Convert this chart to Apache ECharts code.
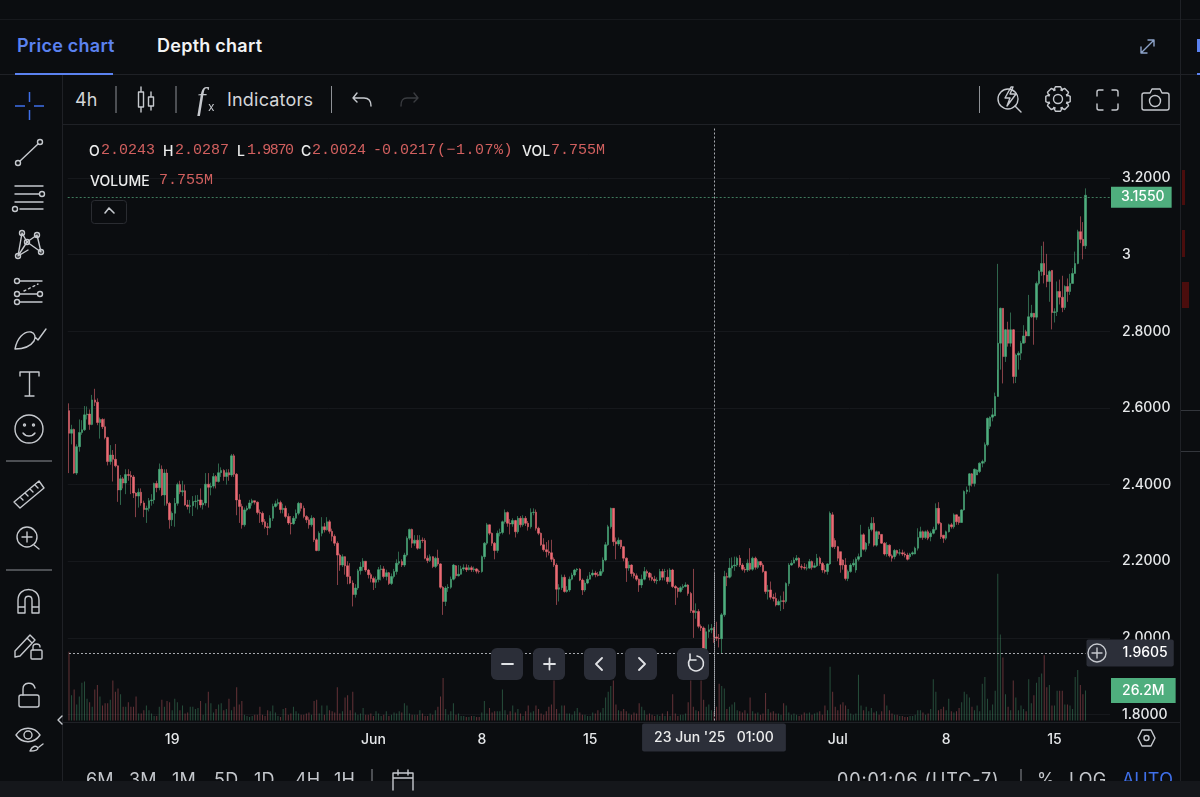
<!DOCTYPE html>
<html>
<head>
<meta charset="utf-8">
<title>Price chart</title>
<script src="https://cdn.jsdelivr.net/npm/echarts@6/dist/echarts.min.js"></script>
<style>
  html, body { margin: 0; width: 1200px; height: 797px; overflow: hidden; background: #0b0d10; }
  #chart { position: absolute; left: 0; top: 0; width: 1200px; height: 797px; }
  .panel { position: absolute; background: #0b0d10; }
  .rule { position: absolute; background: #1f2126; }
  .t { position: absolute; white-space: nowrap; line-height: 20px; color: #d4d6d9; font-family: Inter, sans-serif; font-size: 18px; letter-spacing: 0.2px; }
  .b { font-weight: 600; font-size: 18px; color: #f2f3f4; letter-spacing: 0.25px; }
  .m { font-family: "Liberation Mono", monospace; font-size: 15px; color: #d2605f; letter-spacing: 0; }
  .l { font-weight: 500; font-size: 14px; color: #eceded; letter-spacing: 0; }
  .f { font-size: 18px; color: #c4c7cc; }
  .btn { position: absolute; top: 648px; width: 32px; height: 32px; border-radius: 6px; background: #2b2e38; }
  #icons { position: absolute; left: 0; top: 0; }
  #icons .s { fill: none; stroke: #c6c9ce; stroke-width: 1.4; stroke-linecap: round; stroke-linejoin: round; }
</style>
</head>
<body>
<div id="chart"></div>

<div class="panel" style="left:0;top:0;width:1200px;height:128px"></div>
<div class="panel" style="left:0;top:124px;width:62px;height:660px"></div>
<div class="panel" style="left:0;top:752px;width:1200px;height:29px"></div>
<div class="rule" style="left:0;top:19px;width:1200px;height:1px;background:#17191d"></div>
<div class="rule" style="left:0;top:74px;width:1200px;height:1px"></div>
<div class="rule" style="left:62px;top:124px;width:1118px;height:1px"></div>
<div class="rule" style="left:62px;top:75px;width:1px;height:706px"></div>
<div class="rule" style="left:1180px;top:0;width:1px;height:781px"></div>
<div class="rule" style="left:62px;top:722px;width:1118px;height:1px"></div>
<div class="rule" style="left:15px;top:73px;width:98px;height:2px;background:#5b82f0"></div>
<div class="rule" style="left:1181px;top:410px;width:19px;height:1px;background:#33363c"></div>
<div class="rule" style="left:1181px;top:451px;width:19px;height:1px;background:#33363c"></div>
<div class="rule" style="left:1197px;top:73px;width:3px;height:2px;background:#5b82f0"></div>
<div class="rule" style="left:1182px;top:170px;width:3px;height:35px;background:#4a0d0d"></div>
<div class="rule" style="left:1182px;top:230px;width:3px;height:27px;background:#4a0d0d"></div>
<div class="rule" style="left:1182px;top:282px;width:7px;height:26px;background:#4a0d0d"></div>
<div class="rule" style="left:1197px;top:39px;width:3px;height:13px;background:#5b82f0"></div>

<div class="t b" style="left:17px;top:36px;color:#5b82f0">Price chart</div>
<div class="t b" style="left:157px;top:36px">Depth chart</div>
<div class="t" style="left:75px;top:90px">4h</div>
<div class="t" style="left:227px;top:90px">Indicators</div>

<div class="t l" style="left:89px;top:141px">O</div><div class="t m" style="left:101px;top:141px" id="rO"></div>
<div class="t l" style="left:163px;top:141px">H</div><div class="t m" style="left:175px;top:141px" id="rH"></div>
<div class="t l" style="left:237px;top:141px">L</div><div class="t m" style="left:247px;top:141px;letter-spacing:-1.4px" id="rL"></div>
<div class="t l" style="left:301px;top:141px">C</div><div class="t m" style="left:312px;top:141px" id="rC"></div>
<div class="t m" style="left:373px;top:141px">-0.0217</div>
<div class="t m" style="left:437px;top:141px;letter-spacing:0.5px">(−1.07%)</div>
<div class="t l" style="left:522px;top:141px">VOL</div><div class="t m" style="left:551px;top:141px">7.755M</div>
<div class="t l" style="left:90px;top:171px">VOLUME</div><div class="t m" style="left:159px;top:171px">7.755M</div>

<div class="btn" style="left:491px"></div><div class="btn" style="left:533px"></div>
<div class="btn" style="left:584px"></div><div class="btn" style="left:625px"></div>
<div class="btn" style="left:677px"></div>

<div class="t f" style="left:86px;top:770px">6M</div>
<div class="t f" style="left:129px;top:770px">3M</div>
<div class="t f" style="left:172px;top:770px">1M</div>
<div class="t f" style="left:214px;top:770px">5D</div>
<div class="t f" style="left:254px;top:770px">1D</div>
<div class="t f" style="left:295px;top:770px">4H</div>
<div class="t f" style="left:334px;top:770px">1H</div>
<div class="t f" style="left:837px;top:770px;letter-spacing:0.9px">00:01:06 (UTC-7)</div>
<div class="t f" style="left:1037px;top:770px">%</div>
<div class="t f" style="left:1069px;top:770px">LOG</div>
<div class="t f" style="left:1122px;top:770px;color:#3f6fe8">AUTO</div>
<div class="panel" style="left:0;top:781px;width:1200px;height:16px;background:#15171b"></div>

<svg id="icons" width="1200" height="797">
  <g stroke="#3f6fe8" stroke-width="1.5"><path d="M29.5 92V102M29.5 110V120M15 106H25M34 106H44"/></g>
  <g class="s">
    <path d="M20 161L38 144"/><circle cx="18" cy="163" r="2.5"/><circle cx="40" cy="142" r="2.5"/>
    <path d="M15 186H43M15 194H39M15 202H43M20 209H43"/><circle cx="42" cy="194" r="2.5"/><circle cx="15" cy="209" r="2.5"/>
    <path d="M22 233L18 256M41 252L37 235L27 242L22 233M27 242L18 256M27 242L41 252M18 256L28 250"/>
    <circle cx="22" cy="233" r="2.5"/><circle cx="37" cy="235" r="2.5"/><circle cx="27" cy="242" r="2.5"/><circle cx="18" cy="256" r="2.5"/><circle cx="41" cy="252" r="2.5"/>
    <path d="M20 281H42M20 294H37M20 302H42"/><circle cx="17" cy="281" r="2.5"/><circle cx="17" cy="294" r="2.5"/><circle cx="40" cy="294" r="2.5"/><circle cx="17" cy="302" r="2.5"/>
    <path d="M24 291L38 284" stroke-dasharray="2 3"/>
    <path d="M15 349C17 338 24 331 31 332C35 333 36 337 34 341C30 347 23 349 15 349ZM35 337L38 340L46 329"/>
    <path d="M20 376V372H39V376M29.5 372V396M25 396H34"/>
    <circle cx="29" cy="429" r="14"/><circle cx="24.5" cy="425" r="1"/><circle cx="33.5" cy="425" r="1"/><path d="M23 433C26 437 32 437 35 433"/>
    <path d="M14 502L39 481L44 488L20 508ZM20 497L23 500M25 493L28 496M30 489L33 492M35 485L38 488"/>
    <circle cx="27" cy="537" r="10"/><path d="M22 537H32M27 532V542M34 545L39 549"/>
    <path d="M18 613V600C18 586 39 586 39 600V613H32V600C32 595 25 595 25 600V613ZM18 607H25M32 607H39"/>
    <path d="M15 651L30 635L35 640L20 656L15 657ZM27 638L32 643"/><rect x="31" y="650" width="11" height="9" rx="1"/><path d="M33 650V647C33 643 40 643 40 647"/>
    <rect x="19" y="695" width="20" height="12" rx="2"/><path d="M23 695V689C23 682 33 681 35 688"/>
    <path d="M16 735C22 726 34 726 40 735C34 744 22 744 16 735Z"/><circle cx="28" cy="735" r="4"/><path d="M30 751C32 746 36 745 38 748C38 750 35 751 30 751ZM39 747L43 744"/>
    <path d="M62 716L58 720L62 724"/>
    <path d="M141 87V112M151 92V110"/><rect x="138.5" y="92" width="5" height="15" fill="#0b0d10"/><rect x="148.5" y="97" width="5" height="9" fill="#0b0d10"/>
    <path d="M357 93L353 98L357 102M353 98H364C369 98 371 101 371 106"/>
    <path d="M414 93L418 98L414 102M418 98H407C402 98 401 101 401 106" stroke="#3a3c40"/>
    <circle cx="1008" cy="99" r="10"/><path d="M1015 106L1021 112M1011 87L1005 98H1010L1007 106L1016 94H1010L1013 87Z"/>
    <circle cx="1058" cy="99" r="4.5"/><path id="gear"/>
    <path d="M1097 96V92C1097 91 1098 90 1099 90H1103M1112 90H1116C1117 90 1118 91 1118 92V96M1118 104V108C1118 109 1117 110 1116 110H1112M1103 110H1099C1098 110 1097 109 1097 108V104"/>
    <path d="M1144 93H1150L1152 89H1160L1162 93H1167C1168 93 1169 94 1169 95V108C1169 109 1168 110 1167 110H1144C1143 110 1142 109 1142 108V95C1142 94 1143 93 1144 93Z"/><circle cx="1155" cy="101" r="5.5"/>
    <path d="M1141 53L1154 40M1148 40H1154V46M1141 47V53H1147" stroke="#8da3c9"/>
    <path d="M1138 738L1142 730H1151L1155 738L1151 746H1142Z"/><circle cx="1146.5" cy="738" r="2.5"/>
    <path d="M393 790V773H413V790M393 778H413M398 770V775M408 770V775"/>
    <path d="M109 208L105 213M109 208L114 213" stroke-width="1.6"/>
    <path d="M502 664H513M544 664H555M549.5 658.5V669.5M602 658L596 664L602 670M639 658L645 664L639 670" stroke="#e0e2e5" stroke-width="1.8"/>
    <path d="M697 656A7.5 7.5 0 1 1 690 659M690 654L690 660L696 660" stroke="#e0e2e5" stroke-width="1.6"/>
    <circle cx="1097" cy="653" r="9"/><path d="M1092 653H1102M1097 648V658"/>
  </g>
  <rect x="91.5" y="200.5" width="35" height="23" rx="3" fill="none" stroke="#2a2c31"/>
  <g stroke="#8e9196" stroke-width="1"><path d="M116 86V113M176 86V113M331.5 86V113M979.5 86V113M372 769V781M1021 769V781M52 461H6M52 570H6"/></g>
  <text x="197" y="109" fill="#c6c9ce" font-family="Liberation Serif" font-style="italic" font-size="31">f</text>
  <text x="208" y="111" fill="#c6c9ce" font-family="Inter" font-size="12">x</text>
</svg>

<script>
// 4h candles. One row is ten candles.
const opens = [
  2.593,2.534,2.544,2.430,2.499,2.536,2.543,2.582,2.584,2.557,
  2.621,2.615,2.562,2.570,2.551,2.523,2.460,2.477,2.466,2.449,
  2.386,2.415,2.404,2.426,2.424,2.420,2.378,2.370,2.380,2.352,
  2.335,2.338,2.358,2.360,2.403,2.392,2.440,2.373,2.430,2.351,
  2.308,2.325,2.351,2.400,2.381,2.384,2.347,2.343,2.345,2.356,
  2.357,2.360,2.347,2.352,2.401,2.393,2.396,2.421,2.408,2.431,
  2.437,2.421,2.431,2.425,2.475,2.427,2.360,2.343,2.295,2.334,
  2.338,2.352,2.358,2.354,2.327,2.325,2.303,2.290,2.288,2.312,
  2.343,2.350,2.353,2.335,2.338,2.317,2.300,2.298,2.312,2.325,
  2.351,2.338,2.317,2.308,2.295,2.312,2.256,2.228,2.273,2.290,
  2.282,2.303,2.278,2.265,2.247,2.216,2.190,2.212,2.188,2.160,
  2.143,2.113,2.130,2.175,2.185,2.200,2.177,2.165,2.155,2.145,
  2.152,2.178,2.180,2.160,2.170,2.142,2.160,2.173,2.195,2.199,
  2.190,2.216,2.260,2.283,2.247,2.255,2.234,2.255,2.254,2.208,
  2.202,2.212,2.186,2.208,2.193,2.132,2.095,2.130,2.132,2.153,
  2.188,2.162,2.166,2.180,2.183,2.178,2.183,2.178,2.180,2.174,
  2.173,2.212,2.247,2.295,2.273,2.247,2.228,2.273,2.275,2.303,
  2.327,2.299,2.297,2.306,2.277,2.312,2.295,2.312,2.299,2.290,
  2.327,2.328,2.286,2.273,2.243,2.230,2.225,2.222,2.205,2.190,
  2.127,2.131,2.158,2.121,2.125,2.153,2.164,2.177,2.179,2.151,
  2.125,2.143,2.153,2.164,2.169,2.165,2.163,2.173,2.203,2.243,
  2.290,2.338,2.251,2.245,2.255,2.238,2.208,2.182,2.190,2.168,
  2.162,2.153,2.138,2.153,2.173,2.169,2.158,2.153,2.149,2.151,
  2.173,2.173,2.158,2.147,2.177,2.134,2.130,2.121,2.131,2.134,
  2.138,2.116,2.071,2.066,2.069,2.030,2.026,1.970,2.016,2.021,
  2.0243,2.0024,1.999,1.998,2.060,2.160,2.158,2.182,2.188,2.190,
  2.208,2.190,2.179,2.177,2.195,2.179,2.208,2.184,2.199,2.190,
  2.173,2.121,2.125,2.106,2.103,2.086,2.095,2.097,2.095,2.142,
  2.190,2.195,2.203,2.208,2.186,2.184,2.182,2.182,2.199,2.184,
  2.188,2.208,2.194,2.177,2.173,2.193,2.321,2.254,2.238,2.225,
  2.203,2.190,2.155,2.173,2.190,2.177,2.205,2.212,2.269,2.231,
  2.247,2.283,2.299,2.242,2.277,2.270,2.247,2.219,2.242,2.214,
  2.212,2.228,2.221,2.222,2.219,2.216,2.212,2.219,2.219,2.234,
  2.262,2.277,2.262,2.277,2.264,2.273,2.283,2.338,2.299,2.268,
  2.260,2.277,2.295,2.290,2.321,2.316,2.301,2.334,2.382,2.398,
  2.428,2.403,2.425,2.434,2.456,2.460,2.504,2.552,2.576,2.579,
  2.630,2.769,2.860,2.734,2.804,2.769,2.804,2.682,2.738,2.743,
  2.769,2.799,2.788,2.838,2.847,2.837,2.925,2.956,2.977,2.947,
  2.930,2.959,2.849,2.851,2.904,2.889,2.862,2.917,2.904,2.925,
  2.951,2.977,3.060,3.040,3.023
];
const closes = [
  2.534,2.544,2.430,2.499,2.536,2.543,2.582,2.584,2.557,2.621,
  2.615,2.562,2.570,2.551,2.523,2.460,2.477,2.466,2.449,2.386,
  2.415,2.404,2.426,2.424,2.420,2.378,2.370,2.380,2.352,2.335,
  2.338,2.358,2.360,2.403,2.392,2.440,2.373,2.430,2.351,2.308,
  2.325,2.351,2.400,2.381,2.384,2.347,2.343,2.345,2.356,2.357,
  2.360,2.347,2.352,2.401,2.393,2.396,2.421,2.408,2.431,2.437,
  2.421,2.431,2.425,2.475,2.427,2.360,2.343,2.295,2.334,2.338,
  2.352,2.358,2.354,2.327,2.325,2.303,2.290,2.288,2.312,2.343,
  2.350,2.353,2.335,2.338,2.317,2.300,2.298,2.312,2.325,2.351,
  2.338,2.317,2.308,2.295,2.312,2.256,2.228,2.273,2.290,2.282,
  2.303,2.278,2.265,2.247,2.216,2.190,2.212,2.188,2.160,2.143,
  2.113,2.130,2.175,2.185,2.200,2.177,2.165,2.155,2.145,2.152,
  2.178,2.180,2.160,2.170,2.142,2.160,2.173,2.195,2.199,2.190,
  2.216,2.260,2.283,2.247,2.255,2.234,2.255,2.254,2.208,2.202,
  2.212,2.186,2.208,2.193,2.132,2.095,2.130,2.132,2.153,2.190,
  2.162,2.166,2.180,2.183,2.178,2.183,2.178,2.180,2.174,2.173,
  2.212,2.247,2.295,2.273,2.247,2.228,2.273,2.275,2.303,2.327,
  2.299,2.297,2.306,2.277,2.312,2.295,2.312,2.299,2.290,2.327,
  2.328,2.286,2.273,2.243,2.230,2.225,2.222,2.205,2.190,2.127,
  2.131,2.158,2.121,2.125,2.153,2.164,2.177,2.179,2.151,2.125,
  2.143,2.153,2.164,2.169,2.165,2.163,2.173,2.203,2.243,2.290,
  2.338,2.251,2.245,2.255,2.238,2.208,2.182,2.190,2.168,2.162,
  2.153,2.138,2.153,2.173,2.169,2.158,2.153,2.149,2.151,2.173,
  2.158,2.173,2.147,2.177,2.134,2.130,2.121,2.131,2.134,2.138,
  2.116,2.071,2.066,2.069,2.030,2.026,1.970,2.016,2.021,2.0243,
  2.0024,1.999,1.998,2.060,2.160,2.158,2.182,2.188,2.190,2.208,
  2.190,2.179,2.177,2.195,2.179,2.208,2.184,2.199,2.190,2.173,
  2.121,2.125,2.106,2.103,2.086,2.095,2.097,2.095,2.142,2.190,
  2.195,2.203,2.208,2.186,2.184,2.182,2.182,2.199,2.184,2.188,
  2.208,2.194,2.177,2.173,2.193,2.325,2.238,2.238,2.208,2.190,
  2.190,2.155,2.173,2.190,2.195,2.205,2.212,2.269,2.231,2.247,
  2.283,2.299,2.242,2.277,2.270,2.247,2.219,2.242,2.214,2.208,
  2.228,2.221,2.222,2.219,2.216,2.205,2.219,2.222,2.234,2.262,
  2.277,2.262,2.277,2.260,2.273,2.283,2.338,2.299,2.264,2.260,
  2.277,2.295,2.290,2.321,2.303,2.301,2.334,2.382,2.386,2.428,
  2.403,2.440,2.438,2.456,2.460,2.504,2.573,2.576,2.582,2.630,
  2.769,2.860,2.734,2.804,2.769,2.804,2.682,2.738,2.743,2.769,
  2.788,2.788,2.838,2.847,2.837,2.925,2.956,2.977,2.947,2.930,
  2.956,2.849,2.851,2.904,2.889,2.862,2.917,2.904,2.925,2.951,
  2.977,3.060,3.040,3.023,3.155
];
const highs = [
  2.612,2.556,2.546,2.505,2.570,2.568,2.605,2.604,2.596,2.634,
  2.650,2.625,2.575,2.573,2.572,2.525,2.503,2.490,2.506,2.450,
  2.425,2.420,2.440,2.440,2.435,2.425,2.380,2.390,2.390,2.358,
  2.345,2.365,2.375,2.405,2.410,2.455,2.450,2.440,2.440,2.355,
  2.330,2.365,2.405,2.410,2.410,2.400,2.360,2.360,2.370,2.372,
  2.373,2.390,2.360,2.430,2.430,2.405,2.430,2.425,2.455,2.445,
  2.440,2.440,2.440,2.480,2.480,2.430,2.375,2.350,2.340,2.345,
  2.360,2.363,2.358,2.356,2.335,2.330,2.310,2.300,2.320,2.350,
  2.358,2.363,2.358,2.350,2.345,2.325,2.318,2.318,2.335,2.355,
  2.353,2.345,2.320,2.315,2.320,2.315,2.260,2.278,2.315,2.300,
  2.315,2.308,2.285,2.270,2.252,2.220,2.218,2.210,2.200,2.195,
  2.150,2.140,2.180,2.198,2.208,2.200,2.180,2.170,2.160,2.160,
  2.185,2.190,2.187,2.178,2.172,2.168,2.180,2.205,2.225,2.205,
  2.222,2.265,2.285,2.285,2.268,2.268,2.268,2.262,2.260,2.215,
  2.218,2.210,2.212,2.230,2.195,2.135,2.135,2.140,2.160,2.193,
  2.190,2.190,2.188,2.192,2.192,2.190,2.188,2.186,2.182,2.178,
  2.215,2.250,2.300,2.296,2.275,2.250,2.280,2.285,2.306,2.335,
  2.330,2.310,2.312,2.308,2.318,2.318,2.320,2.318,2.305,2.338,
  2.338,2.335,2.290,2.275,2.260,2.250,2.255,2.256,2.210,2.195,
  2.140,2.165,2.165,2.135,2.160,2.170,2.180,2.182,2.182,2.155,
  2.150,2.162,2.172,2.178,2.175,2.172,2.180,2.210,2.250,2.295,
  2.340,2.338,2.262,2.262,2.256,2.240,2.210,2.200,2.192,2.172,
  2.168,2.155,2.165,2.185,2.178,2.172,2.168,2.162,2.158,2.180,
  2.180,2.180,2.178,2.182,2.180,2.138,2.132,2.135,2.140,2.145,
  2.140,2.120,2.180,2.090,2.075,2.035,2.030,2.025,2.035,2.036,
  2.0287,2.042,2.010,2.065,2.175,2.170,2.208,2.210,2.212,2.212,
  2.216,2.195,2.185,2.205,2.234,2.212,2.212,2.205,2.200,2.195,
  2.175,2.138,2.147,2.115,2.118,2.100,2.110,2.121,2.145,2.195,
  2.203,2.210,2.216,2.210,2.192,2.195,2.192,2.206,2.202,2.196,
  2.219,2.212,2.198,2.190,2.195,2.330,2.328,2.260,2.240,2.225,
  2.205,2.208,2.178,2.195,2.205,2.210,2.220,2.295,2.273,2.250,
  2.290,2.315,2.315,2.280,2.278,2.262,2.250,2.250,2.244,2.218,
  2.232,2.230,2.232,2.230,2.225,2.222,2.222,2.226,2.238,2.286,
  2.290,2.280,2.280,2.282,2.278,2.290,2.351,2.354,2.302,2.268,
  2.280,2.298,2.300,2.325,2.322,2.312,2.336,2.385,2.395,2.430,
  2.430,2.442,2.440,2.458,2.465,2.510,2.575,2.578,2.600,2.640,
  2.976,2.862,2.860,2.806,2.825,2.849,2.806,2.742,2.748,2.775,
  2.816,2.804,2.895,2.869,2.848,2.930,2.960,3.023,3.034,3.002,
  2.960,2.960,2.860,2.930,2.935,2.945,2.920,2.938,2.950,2.965,
  3.008,3.065,3.100,3.085,3.173
];
const lows = [
  2.430,2.505,2.428,2.425,2.486,2.530,2.540,2.570,2.543,2.555,
  2.605,2.555,2.520,2.545,2.518,2.450,2.452,2.408,2.445,2.355,
  2.347,2.390,2.375,2.410,2.375,2.365,2.315,2.340,2.345,2.315,
  2.300,2.330,2.345,2.350,2.380,2.385,2.370,2.345,2.345,2.285,
  2.292,2.290,2.345,2.375,2.370,2.345,2.335,2.325,2.318,2.340,
  2.335,2.340,2.335,2.345,2.340,2.372,2.390,2.390,2.405,2.420,
  2.410,2.400,2.410,2.420,2.420,2.320,2.300,2.285,2.290,2.330,
  2.335,2.345,2.348,2.322,2.300,2.295,2.285,2.268,2.285,2.305,
  2.340,2.345,2.325,2.325,2.312,2.295,2.270,2.295,2.305,2.320,
  2.330,2.312,2.300,2.285,2.290,2.250,2.226,2.226,2.265,2.275,
  2.280,2.272,2.252,2.240,2.138,2.175,2.185,2.165,2.140,2.140,
  2.082,2.105,2.125,2.165,2.175,2.172,2.155,2.145,2.125,2.130,
  2.145,2.150,2.155,2.150,2.138,2.138,2.155,2.165,2.190,2.185,
  2.185,2.212,2.255,2.235,2.240,2.230,2.232,2.248,2.205,2.195,
  2.198,2.182,2.182,2.188,2.128,2.060,2.083,2.120,2.128,2.150,
  2.155,2.160,2.165,2.175,2.172,2.176,2.172,2.172,2.168,2.168,
  2.170,2.205,2.242,2.268,2.240,2.205,2.222,2.265,2.270,2.298,
  2.290,2.270,2.290,2.262,2.272,2.288,2.290,2.292,2.280,2.285,
  2.320,2.280,2.268,2.240,2.225,2.210,2.215,2.198,2.185,2.086,
  2.095,2.125,2.118,2.118,2.120,2.150,2.160,2.172,2.148,2.112,
  2.120,2.140,2.155,2.160,2.158,2.160,2.165,2.168,2.200,2.240,
  2.285,2.240,2.205,2.240,2.232,2.200,2.146,2.175,2.160,2.155,
  2.148,2.120,2.130,2.150,2.160,2.150,2.148,2.143,2.140,2.148,
  2.150,2.150,2.140,2.145,2.130,2.086,2.105,2.118,2.125,2.132,
  2.110,2.065,2.000,2.050,2.025,2.018,1.962,1.968,2.000,2.012,
  1.9870,1.992,1.975,1.9605,2.055,2.135,2.155,2.160,2.175,2.185,
  2.185,2.175,2.170,2.172,2.175,2.175,2.178,2.180,2.185,2.170,
  2.115,2.100,2.100,2.095,2.082,2.085,2.070,2.075,2.090,2.135,
  2.188,2.195,2.200,2.182,2.178,2.178,2.176,2.180,2.178,2.182,
  2.185,2.188,2.170,2.168,2.165,2.190,2.235,2.232,2.200,2.170,
  2.178,2.150,2.148,2.170,2.185,2.170,2.200,2.210,2.228,2.225,
  2.240,2.278,2.238,2.238,2.258,2.245,2.215,2.212,2.210,2.199,
  2.205,2.215,2.215,2.214,2.210,2.202,2.205,2.215,2.218,2.228,
  2.260,2.256,2.258,2.255,2.252,2.270,2.280,2.295,2.258,2.248,
  2.255,2.275,2.285,2.285,2.295,2.295,2.300,2.332,2.375,2.380,
  2.395,2.395,2.425,2.430,2.445,2.455,2.500,2.545,2.565,2.580,
  2.700,2.700,2.664,2.720,2.760,2.760,2.664,2.665,2.700,2.725,
  2.770,2.770,2.800,2.835,2.765,2.830,2.920,2.945,2.925,2.915,
  2.877,2.805,2.823,2.840,2.870,2.850,2.856,2.877,2.895,2.925,
  2.970,2.975,3.030,2.988,3.015
];
// volume in millions
const volumes = [
  60,22,27,14,21,33,34,19,16,12, 27,31,21,13,15,15,18,35,25,28,
  23,12,12,16,12,12,21,6,6,9, 13,9,6,4,4,12,18,12,17,16,
  9,19,16,9,13,6,7,12,12,10, 11,17,5,15,25,15,7,10,14,15,
  9,10,19,9,12,29,14,17,5,4, 3,4,5,5,12,5,4,9,8,13,
  7,4,3,10,11,5,6,12,8,6, 5,5,6,7,5,17,18,6,13,5,
  13,9,8,7,29,6,8,20,22,9, 25,7,5,6,11,5,5,6,4,8,
  6,4,5,8,4,5,7,6,8,7, 15,13,6,5,5,5,9,6,4,4,
  6,5,9,12,21,37,10,5,8,15, 5,6,4,4,3,3,4,4,3,3,
  7,17,6,11,7,8,8,8,27,9, 5,8,13,7,10,6,4,8,13,7,
  8,13,10,6,5,8,12,14,35,10, 6,13,13,6,6,5,8,11,7,5,
  5,4,4,7,6,9,7,11,20,25, 30,35,14,9,8,10,8,6,5,7,
  6,15,12,9,5,6,5,4,5,4, 6,4,8,4,23,6,4,5,5,6,
  16,35,12,9,8,35,18,12,14,9, 7.755,12,32,30,28,10,12,14,16,9,
  8,7,9,6,20,8,6,7,5,6, 24,10,7,8,6,6,5,15,13,7,
  5,6,5,4,5,7,6,7,5,6, 7,8,5,13,9,47,25,12,9,14,
  16,13,10,6,5,6,40,13,9,12, 8,11,7,8,5,8,23,13,9,6,
  5,5,4,4,3,3,4,4,5,9, 9,7,5,6,10,36,25,9,10,12,
  9,19,8,7,8,11,16,25,23,20, 12,9,13,8,32,38,19,9,14,26,
  128,75,55,23,12,9,35,20,9,13, 10,8,36,15,22,33,38,41,57,29,
  31,13,13,26,26,26,14,14,13,10, 38,44,31,23,26.2
];

const tickIndexes = [40, 118, 160, 202, 298, 340, 382];
const tickNames = ['19', 'Jun', '8', '15', 'Jul', '8', '15'];
const lastPrice = 3.155;
const lowPrice = 1.9605;
const lastVolume = 26.2;
const hoverIndex = 250;
const hoverLabel = "23 Jun '25   01:00";

// empty slots after the last candle, the axis runs on to the price scale
const slotCount = 404;
const categories = [];
for (let i = 0; i < slotCount; i++) categories.push(i);

const upColor = '#4fae7e';
const downColor = '#ec6b74';
const upWick = 'rgba(79,174,126,0.55)';
const downWick = 'rgba(236,107,116,0.55)';

document.getElementById('rO').textContent = opens[hoverIndex].toFixed(4);
document.getElementById('rH').textContent = highs[hoverIndex].toFixed(4);
document.getElementById('rL').textContent = lows[hoverIndex].toFixed(4);
document.getElementById('rC').textContent = closes[hoverIndex].toFixed(4);

// settings icon: eight teeth round a centre
let gearPath = '';
for (let k = 0; k < 8; k++) {
  [[-27, 9.5], [-12, 12.5], [12, 12.5], [27, 9.5]].forEach(function (p) {
    const a = (k * 45 + p[0]) * Math.PI / 180;
    gearPath += (gearPath ? 'L' : 'M') + (1058 + p[1] * Math.cos(a)).toFixed(1) + ' ' + (99 + p[1] * Math.sin(a)).toFixed(1);
  });
}
document.getElementById('gear').setAttribute('d', gearPath + 'Z');

const candles = opens.map((o, i) => [o, closes[i], lows[i], highs[i]]);
const bars = volumes.map((v, i) => ({
  value: v,
  itemStyle: { color: closes[i] >= opens[i] ? 'rgba(79,174,126,0.4)' : 'rgba(236,107,116,0.4)' }
}));

const dotted = color => ({ type: [2, 2], width: 1, color: color });
const boxLabel = {
  show: true,
  position: 'end',
  distance: 1,
  color: '#fff',
  fontFamily: 'Inter',
  fontWeight: 500,
  fontSize: 14
};

const myChart = echarts.init(document.getElementById('chart'), null, { renderer: 'canvas' });
myChart.setOption({
  animation: false,
  backgroundColor: '#0b0d10',
  grid: [
    { left: 67.7, width: 1042.3, top: 101.4, height: 613.1 },
    { left: 67.7, width: 1042.3, top: 571.5, height: 149 }
  ],
  xAxis: [
    { type: 'category', gridIndex: 0, data: categories, show: false },
    {
      type: 'category',
      gridIndex: 1,
      data: categories,
      axisLine: { show: false },
      axisTick: { show: false },
      axisLabel: {
        margin: 12,
        color: '#e6e8ea',
        fontFamily: 'Inter',
        fontWeight: 500,
        fontSize: 14,
        interval: i => tickIndexes.includes(i),
        formatter: (v, i) => tickNames[tickIndexes.indexOf(i)]
      }
    }
  ],
  yAxis: [
    {
      type: 'value',
      gridIndex: 0,
      position: 'right',
      min: 1.8,
      max: 3.4,
      interval: 0.2,
      axisLine: { show: false },
      axisTick: { show: false },
      splitLine: { lineStyle: { color: '#16181c' } },
      axisLabel: {
        margin: 12,
        align: 'left',
        padding: [2, 0, 0, 0],
        color: '#e6e8ea',
        fontFamily: 'Inter',
        fontWeight: 500,
        fontSize: 14,
        formatter: v => (Math.abs(v - 3) < 1e-6 ? '3' : v.toFixed(4))
      }
    },
    { type: 'value', gridIndex: 1, min: 0, max: 130, show: false, splitLine: { show: false } }
  ],
  series: [
    {
      type: 'bar',
      xAxisIndex: 1,
      yAxisIndex: 1,
      barWidth: 1,
      data: bars,
      markLine: {
        silent: true,
        symbol: 'none',
        animation: false,
        data: [
          {
            yAxis: lastVolume,
            lineStyle: { color: 'transparent', width: 0 },
            label: Object.assign({}, boxLabel, {
              formatter: lastVolume + 'M',
              backgroundColor: upColor,
              padding: [6, 11, 5, 11]
            })
          },
          {
            xAxis: hoverIndex,
            lineStyle: dotted('#a8abb0'),
            label: {
              show: true,
              position: 'start',
              distance: 3,
              formatter: hoverLabel,
              color: '#eceded',
              backgroundColor: '#2c2f39',
              fontFamily: 'Inter',
              fontWeight: 500,
              fontSize: 14,
              padding: [7, 12, 7, 12],
              borderRadius: 2
            }
          }
        ]
      }
    },
    {
      type: 'candlestick',
      xAxisIndex: 0,
      yAxisIndex: 0,
      barWidth: 2,
      data: candles,
      itemStyle: {
        color: upColor,
        color0: downColor,
        borderColor: upWick,
        borderColor0: downWick,
        borderWidth: 1
      },
      markLine: {
        silent: true,
        symbol: 'none',
        animation: false,
        data: [
          {
            yAxis: lastPrice,
            lineStyle: dotted('#3f7a5c'),
            label: Object.assign({}, boxLabel, {
              formatter: lastPrice.toFixed(4),
              backgroundColor: upColor,
              padding: [4, 7, 3, 10]
            })
          },
          [
            { xAxis: 0, yAxis: lowPrice, lineStyle: dotted('#a8abb0'),
              label: Object.assign({}, boxLabel, {
                formatter: lowPrice.toFixed(4),
                backgroundColor: '#2c2f39',
                padding: [7, 6, 6, 36],
                borderRadius: 2
              })
            },
            { xAxis: opens.length - 1, yAxis: lowPrice }
          ],
          { xAxis: hoverIndex, lineStyle: dotted('#a8abb0'), label: { show: false } }
        ]
      }
    }
  ]
});
</script>
</body>
</html>
